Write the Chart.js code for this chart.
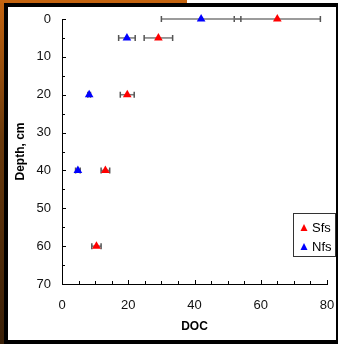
<!DOCTYPE html>
<html>
<head>
<meta charset="utf-8">
<script src="https://cdn.jsdelivr.net/npm/chart.js@4"></script>
<style>
  body { margin: 0; background: #fff; width: 338px; height: 344px; position: relative; overflow: hidden; }
  .strip-left { position: absolute; left: 0; top: 0; width: 4px; height: 344px; background: linear-gradient(#c4640f, #6a3a0c 40%, #3a2008); }
  .strip-top { position: absolute; left: 0; top: 0; width: 187px; height: 3px; background: #c4640f; }
  .frame { position: absolute; left: 4px; top: 3px; width: 328px; height: 333px; border: 4px solid #000; border-right-width: 2px; background: #fff; }
  canvas { display: block; }
</style>
</head>
<body>
<div class="strip-left"></div>
<div class="strip-top"></div>
<div class="frame"><canvas id="chart" width="328" height="333"></canvas></div>
<script>
// values
const depthSfs = [0, 5, 20, 40, 60];
const docSfs = [65, 29.1, 19.7, 13.1, 10.4];
const errSfs = [13, 4.3, 2.1, 1.3, 1.4];

const depthNfs = [0, 5, 20, 40];
const docNfs = [42, 19.6, 8.2, 4.8];
const errNfs = [12, 2.5, 0.4, 0.7];

const xTicks = [0, 20, 40, 60, 80];
const yTicks = [0, 10, 20, 30, 40, 50, 60, 70];

const seriesNames = ['Sfs', 'Nfs'];
const seriesColors = ['#ff0000', '#0000ff'];

function toPoints(xs, ys) {
    return xs.map((x, i) => ({ x: x, y: ys[i] }));
}

// horizontal error bars, drawn under the markers
const errorBars = {
    id: 'errorBars',
    beforeDatasetsDraw(chart) {
        const ctx = chart.ctx;
        const xs = chart.scales.x;
        const ys = chart.scales.y;
        const sets = [[docSfs, depthSfs, errSfs], [docNfs, depthNfs, errNfs]];
        ctx.save();
        sets.forEach(([doc, dep, err]) => {
            doc.forEach((v, i) => {
                const y = ys.getPixelForValue(dep[i]);
                const x1 = xs.getPixelForValue(v - err[i]);
                const x2 = xs.getPixelForValue(v + err[i]);
                ctx.strokeStyle = '#7a7a7a';
                ctx.lineWidth = 1.5;
                ctx.beginPath();
                ctx.moveTo(x1, y);
                ctx.lineTo(x2, y);
                ctx.stroke();
                ctx.strokeStyle = '#555';
                ctx.beginPath();
                ctx.moveTo(x1, y - 3);
                ctx.lineTo(x1, y + 3);
                ctx.moveTo(x2, y - 3);
                ctx.lineTo(x2, y + 3);
                ctx.stroke();
            });
        });
        ctx.restore();
    }
};

// tick marks pointing into the plot, majors and minors
const innerTicks = {
    id: 'innerTicks',
    afterDraw(chart) {
        const ctx = chart.ctx;
        const xs = chart.scales.x;
        const ys = chart.scales.y;
        const area = chart.chartArea;
        ctx.save();
        ctx.strokeStyle = '#000';
        ctx.lineWidth = 1;
        ctx.beginPath();
        for (let v = 0; v <= 80; v += 5) {
            const x = Math.round(xs.getPixelForValue(v)) + 0.5;
            const len = v % 20 === 0 ? 4 : 3;
            ctx.moveTo(x, area.bottom);
            ctx.lineTo(x, area.bottom - len);
        }
        for (let v = 0; v <= 70; v += 5) {
            const y = Math.round(ys.getPixelForValue(v)) + 0.5;
            const len = v % 10 === 0 ? 4 : 3;
            ctx.moveTo(area.left, y);
            ctx.lineTo(area.left + len, y);
        }
        ctx.stroke();
        ctx.restore();
    }
};

// boxed legend in the lower right corner
const boxLegend = {
    id: 'boxLegend',
    afterDraw(chart) {
        const ctx = chart.ctx;
        const bx = 285, by = 206, bw = 42, bh = 43;
        ctx.save();
        ctx.fillStyle = '#fff';
        ctx.fillRect(bx, by, bw, bh);
        ctx.strokeStyle = '#333';
        ctx.lineWidth = 1;
        ctx.strokeRect(bx + 0.5, by + 0.5, bw, bh);
        ctx.font = '13px "Liberation Sans", Arial, sans-serif';
        ctx.textBaseline = 'middle';
        seriesNames.forEach((name, i) => {
            const cy = by + 15 + i * 19;
            const cx = bx + 11;
            ctx.fillStyle = seriesColors[i];
            ctx.beginPath();
            ctx.moveTo(cx, cy - 4);
            ctx.lineTo(cx + 3.5, cy + 3);
            ctx.lineTo(cx - 3.5, cy + 3);
            ctx.closePath();
            ctx.fill();
            ctx.fillStyle = '#000';
            ctx.fillText(name, bx + 19, cy);
        });
        ctx.restore();
    }
};

const tickFont = { family: '"Liberation Sans", Arial, sans-serif', size: 13 };
const titleFont = { family: '"Liberation Sans", Arial, sans-serif', size: 12, weight: 'bold' };

new Chart(document.getElementById('chart'), {
    type: 'scatter',
    data: {
        datasets: [
            {
                label: seriesNames[1],
                data: toPoints(docNfs, depthNfs),
                pointStyle: 'triangle',
                pointRadius: 5,
                backgroundColor: seriesColors[1],
                borderColor: seriesColors[1],
                borderWidth: 0,
                clip: false
            },
            {
                label: seriesNames[0],
                data: toPoints(docSfs, depthSfs),
                pointStyle: 'triangle',
                pointRadius: 5,
                backgroundColor: seriesColors[0],
                borderColor: seriesColors[0],
                borderWidth: 0,
                clip: false
            }
        ]
    },
    options: {
        responsive: false,
        animation: false,
        layout: { padding: { left: 0, top: 12, right: 9, bottom: 0 } },
        plugins: {
            legend: { display: false },
            tooltip: { enabled: false }
        },
        scales: {
            x: {
                type: 'linear',
                position: 'bottom',
                min: 0,
                max: 80,
                afterFit: (s) => { s.height = 56; s.paddingLeft = 0; s.paddingRight = 0; },
                afterBuildTicks: (s) => { s.ticks = xTicks.map(v => ({ value: v })); },
                grid: { display: true, drawOnChartArea: false, drawTicks: false },
                border: { display: true, color: '#000', width: 1 },
                ticks: { font: tickFont, color: '#111', padding: 14, maxRotation: 0 },
                title: { display: true, text: 'DOC', font: titleFont, color: '#000', padding: { top: 0, bottom: 6 } }
            },
            y: {
                type: 'linear',
                reverse: true,
                min: 0,
                max: 70,
                afterFit: (s) => { s.width = 54; s.paddingTop = 0; s.paddingBottom = 0; },
                afterBuildTicks: (s) => { s.ticks = yTicks.map(v => ({ value: v })); },
                grid: { display: true, drawOnChartArea: false, drawTicks: false },
                border: { display: true, color: '#000', width: 1 },
                ticks: { font: tickFont, color: '#111', padding: 11 },
                title: { display: true, text: 'Depth, cm', font: titleFont, color: '#000', padding: { top: 5, bottom: 0 } }
            }
        }
    },
    plugins: [errorBars, innerTicks, boxLegend]
});
</script>
</body>
</html>
